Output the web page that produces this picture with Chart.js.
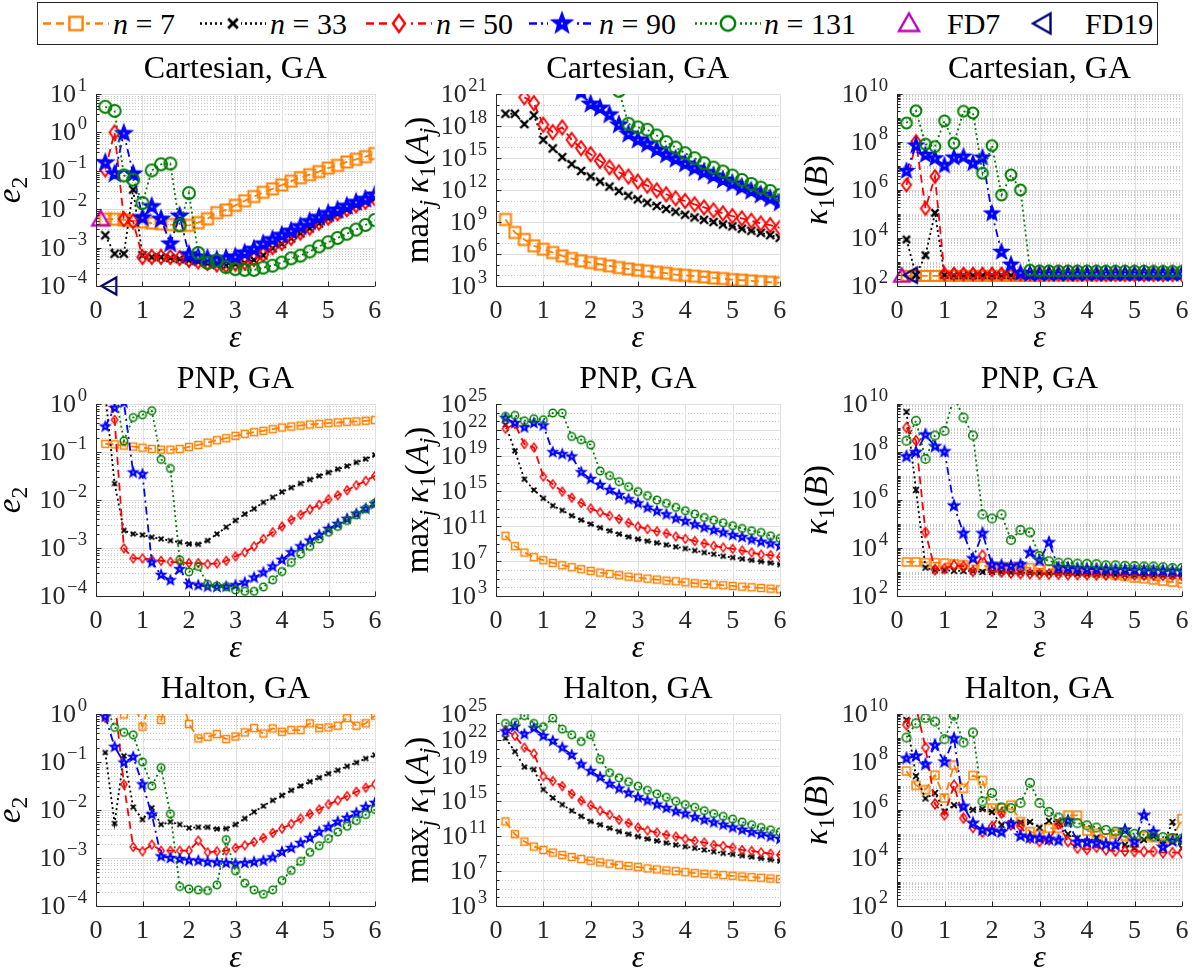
<!DOCTYPE html>
<html>
<head>
<meta charset="utf-8">
<title>GA conditioning and error</title>
<script src="https://cdn.jsdelivr.net/npm/chart.js@4.4.1/dist/chart.umd.min.js"></script>
<style>
  body { margin: 0; background: #fff; }
  #page { position: relative; width: 1192px; height: 980px; overflow: hidden; }
  #page canvas.panel { position: absolute; }
  #legend { position: absolute; left: 37px; top: 2px; width: 1121px; height: 43px; box-sizing: border-box;
            border: 1px solid #262626; font-family: 'Liberation Serif', serif; font-size: 30px; color: #000; background: #fff; }
  #legend .txt { position: absolute; top: 0; height: 41px; line-height: 41px; white-space: nowrap; }
  #legend canvas { position: absolute; top: 0; }
</style>
</head>
<body>
<div id="page">
  <div id="legend"></div>
</div>
<script>
// shape parameter values
var eps = [0.2, 0.4, 0.6, 0.8, 1.0, 1.2, 1.4, 1.6, 1.8, 2.0, 2.2, 2.4, 2.6, 2.8, 3.0,
           3.2, 3.4, 3.6, 3.8, 4.0, 4.2, 4.4, 4.6, 4.8, 5.0, 5.2, 5.4, 5.6, 5.8, 6.0];

// all values below are log10 of what the figure shows (null = not plotted)

// Cartesian, e2
var cartE2N7 = [-2.26,-2.26,-2.28,-2.30,-2.33,-2.36,-2.38,-2.40,-2.42,-2.42,-2.35,-2.25,-2.09,-2.02,-1.90,-1.78,-1.67,-1.56,-1.47,-1.37,-1.27,-1.18,-1.10,-1.02,-0.93,-0.86,-0.77,-0.70,-0.63,-0.55];
var cartE2N33 = [-2.68,-3.16,-3.16,-1.49,-3.20,-3.25,-3.25,-3.27,-3.30,-3.33,-3.37,-3.41,-3.45,-3.47,-3.43,-3.40,-3.32,-3.20,-3.02,-2.90,-2.76,-2.63,-2.50,-2.37,-2.24,-2.13,-2.02,-1.91,-1.82,-1.73];
var cartE2N50 = [-0.965,0.0,-2.26,-2.32,-3.245,-3.24,-3.24,-3.245,-3.27,-3.32,-3.36,-3.40,-3.44,-3.46,-3.42,-3.39,-3.30,-3.18,-2.99,-2.88,-2.75,-2.61,-2.48,-2.35,-2.22,-2.11,-2.00,-1.90,-1.81,-1.72];
var cartE2N90 = [-0.79,-1.08,-0.026,-1.08,-2.22,-1.93,-2.26,-2.90,-2.175,-3.18,-3.245,-3.28,-3.32,-3.28,-3.24,-3.14,-3.04,-2.90,-2.79,-2.68,-2.57,-2.45,-2.32,-2.21,-2.11,-2.02,-1.92,-1.82,-1.74,-1.63];
var cartE2N131 = [0.667,0.56,-1.12,-1.23,-1.84,-0.99,-0.83,-0.81,-2.42,-1.58,-3.14,-3.40,-3.34,-3.51,-3.56,-3.58,-3.58,-3.52,-3.47,-3.39,-3.28,-3.21,-3.10,-2.97,-2.86,-2.75,-2.64,-2.53,-2.41,-2.28];

// Cartesian, max_j kappa1(A_j)
var cartKAN7 = [9.24,8.02,7.36,6.77,6.45,6.14,5.83,5.58,5.36,5.20,5.04,4.89,4.73,4.60,4.48,4.39,4.29,4.20,4.07,4.00,3.92,3.85,3.76,3.70,3.60,3.54,3.48,3.41,3.35,3.29];
var cartKAN33 = [19.15,19.15,18.18,19.0,16.7,15.9,15.08,14.42,13.79,13.26,12.79,12.32,11.9,11.47,11.13,10.81,10.5,10.22,9.97,9.68,9.43,9.21,9.0,8.77,8.59,8.37,8.18,7.99,7.77,7.52];
var cartKAN50 = [null,null,20.69,20.15,18.12,17.43,17.87,16.7,15.92,15.36,14.73,14.13,13.66,13.26,12.79,12.41,11.97,11.6,11.22,10.97,10.66,10.37,10.09,9.81,9.56,9.34,9.12,8.87,8.71,8.46];
var cartKAN90 = [null,null,null,null,null,null,null,23,21.15,20.06,19.68,19.06,18.12,17.24,16.7,16.3,15.76,15.3,14.89,14.45,14.04,13.66,13.32,12.94,12.6,12.25,11.9,11.55,11.2,10.8];
var cartKAN131 = [null,null,null,null,null,null,null,null,null,null,null,24,21.3,18.21,17.87,17.65,17.11,16.49,15.98,15.45,14.98,14.51,14.1,13.73,13.35,12.94,12.57,12.22,11.91,11.53];

// Cartesian, kappa1(B)
var cartKBN7 = [2.42,2.42,2.42,2.42,2.42,2.42,2.42,2.42,2.42,2.42,2.42,2.42,2.42,2.42,2.42,2.43,2.43,2.43,2.43,2.44,2.44,2.44,2.45,2.45,2.46,2.46,2.47,2.47,2.48,2.49];
var cartKBN33 = [3.94,2.45,3.28,5.05,2.45,2.44,2.44,2.44,2.44,2.44,2.44,2.44,2.44,2.44,2.45,2.45,2.45,2.45,2.45,2.45,2.46,2.46,2.46,2.46,2.47,2.47,2.47,2.48,2.48,2.48];
var cartKBN50 = [6.21,8.02,5.23,6.56,2.50,2.50,2.50,2.50,2.50,2.50,2.50,2.51,2.50,2.50,2.49,2.49,2.49,2.49,2.49,2.48,2.48,2.48,2.48,2.48,2.47,2.47,2.47,2.47,2.47,2.47];
var cartKBN90 = [6.79,7.85,7.46,7.32,7.02,7.35,7.39,7.11,7.35,5.02,3.42,2.89,2.54,2.50,2.50,2.50,2.50,2.50,2.50,2.50,2.50,2.50,2.50,2.50,2.50,2.50,2.50,2.50,2.50,2.51];
var cartKBN131 = [8.79,9.30,7.91,7.81,8.88,7.95,9.28,9.21,6.70,7.85,5.79,6.63,6.00,2.66,2.63,2.63,2.63,2.63,2.63,2.63,2.63,2.62,2.62,2.62,2.62,2.62,2.61,2.61,2.61,2.61];

// PNP, e2
var pnpE2N7 = [-0.83,-0.84,-0.867,-0.888,-0.909,-0.937,-0.951,-0.951,-0.937,-0.895,-0.853,-0.804,-0.755,-0.713,-0.664,-0.622,-0.587,-0.559,-0.524,-0.49,-0.469,-0.448,-0.427,-0.413,-0.399,-0.385,-0.371,-0.364,-0.35,-0.336];
var pnpE2N33 = [0.2,-1.657,-2.636,-2.706,-2.727,-2.776,-2.811,-2.846,-2.881,-2.916,-2.923,-2.846,-2.706,-2.566,-2.427,-2.294,-2.182,-2.049,-1.944,-1.832,-1.741,-1.657,-1.573,-1.497,-1.427,-1.357,-1.294,-1.217,-1.147,-1.063];
var pnpE2N50 = [0.5,-0.33,-3.007,-3.217,-3.217,-3.245,-3.266,-3.287,-3.30,-3.315,-3.315,-3.336,-3.32,-3.266,-3.175,-3.09,-2.965,-2.811,-2.671,-2.552,-2.413,-2.308,-2.196,-2.098,-1.986,-1.902,-1.797,-1.692,-1.601,-1.497];
var pnpE2N90 = [-0.469,-0.084,0.03,-1.427,-1.462,-3.30,-3.56,-3.671,-3.44,-3.755,-3.776,-3.804,-3.811,-3.804,-3.776,-3.72,-3.615,-3.51,-3.385,-3.245,-3.09,-2.965,-2.846,-2.727,-2.601,-2.497,-2.392,-2.287,-2.182,-2.077];
var pnpE2N131 = [0.5,0.3,-0.769,-0.28,-0.224,-0.14,-1.154,-1.343,-3.245,-3.497,-3.385,-3.755,-3.79,-3.804,-3.874,-3.902,-3.902,-3.811,-3.664,-3.49,-3.30,-3.126,-2.965,-2.811,-2.671,-2.552,-2.427,-2.308,-2.182,-2.063];

// PNP, max_j kappa1(A_j)
var pnpKAN7 = [9.9,8.71,7.98,7.45,7.10,6.79,6.53,6.30,6.07,5.87,5.68,5.53,5.38,5.22,5.11,4.99,4.88,4.76,4.69,4.57,4.46,4.38,4.30,4.23,4.15,4.07,4.00,3.92,3.84,3.77];
var pnpKAN33 = [22.62,19.63,16.38,15.15,14.19,13.35,12.81,12.20,11.70,11.24,10.82,10.47,10.09,9.78,9.52,9.29,9.09,8.86,8.63,8.44,8.21,7.98,7.79,7.56,7.41,7.25,7.10,6.95,6.79,6.60];
var pnpKAN50 = [22.16,22.70,20.40,20.02,16.68,15.80,14.96,14.27,13.65,13.04,12.58,12.20,11.81,11.39,10.97,10.66,10.40,10.17,9.82,9.55,9.29,9.02,8.75,8.56,8.40,8.21,7.98,7.75,7.68,7.45];
var pnpKAN90 = [23.39,22.82,22.32,22.82,22.55,19.48,19.25,18.98,17.18,16.41,15.72,15.15,14.57,14.08,13.62,13.12,12.73,12.35,11.89,11.58,11.20,10.86,10.55,10.28,9.98,9.75,9.48,9.21,9.02,8.75];
var pnpKAN131 = [23.58,23.70,23.08,23.31,23.20,23.97,23.97,21.28,20.90,20.32,17.33,16.80,16.11,15.53,14.96,14.50,14.00,13.62,13.16,12.77,12.39,12.00,11.70,11.39,11.05,10.74,10.47,10.28,9.90,9.59];

// PNP, kappa1(B)
var pnpKBN7 = [3.42,3.42,3.39,3.39,3.37,3.34,3.31,3.28,3.25,3.24,3.23,3.22,3.20,3.18,3.14,3.12,3.10,3.08,3.05,3.00,2.97,2.93,2.86,2.82,2.75,2.72,2.67,2.62,2.58,2.53];
var pnpKBN33 = [9.67,6.42,3.18,3.07,3.07,3.05,3.04,3.03,3.00,3.00,2.99,2.98,2.97,2.96,2.95,2.94,2.93,2.93,2.92,2.91,2.90,2.90,2.89,2.88,2.87,2.87,2.86,2.86,2.85,2.85];
var pnpKBN50 = [9.02,8.47,4.65,3.10,3.14,3.28,3.24,3.03,3.70,3.03,3.00,2.96,2.93,2.93,2.91,2.91,2.91,2.89,2.89,2.89,2.88,2.88,2.88,2.87,2.87,2.87,2.87,2.86,2.86,2.86];
var pnpKBN90 = [7.81,7.99,8.72,8.23,8.02,5.76,4.61,3.56,4.61,3.31,3.28,3.25,3.31,3.81,3.49,4.23,3.18,3.17,3.14,3.13,3.12,3.11,3.10,3.09,3.08,3.07,3.06,3.05,3.04,3.03];
var pnpKBN131 = [8.47,9.30,7.71,8.69,8.88,10.3,9.44,8.69,5.40,5.23,5.40,4.33,4.75,4.65,3.67,3.45,3.39,3.39,3.35,3.34,3.33,3.28,3.28,3.26,3.25,3.23,3.23,3.20,3.17,3.17];

// Halton, e2
var halE2N7 = [0.3,0.2,-0.01,0.3,-0.265,0.4,-0.126,0.5,0.5,-0.209,-0.509,-0.475,-0.419,-0.523,-0.468,-0.384,-0.293,-0.405,-0.30,-0.37,-0.335,-0.335,-0.195,-0.293,-0.279,-0.244,-0.084,-0.244,-0.195,-0.035];
var halE2N33 = [-0.803,-2.28,-0.872,-1.94,-2.198,-1.954,-2.303,-2.247,-2.303,-2.373,-2.359,-2.359,-2.394,-2.387,-2.303,-2.177,-2.038,-1.919,-1.80,-1.696,-1.591,-1.50,-1.41,-1.326,-1.242,-1.172,-1.089,-1.012,-0.928,-0.858];
var halE2N50 = [-0.084,0.3,-1.465,-2.77,-2.861,-2.722,-2.847,-2.847,-2.847,-2.847,-2.638,-2.882,-2.861,-2.847,-2.791,-2.736,-2.666,-2.582,-2.477,-2.387,-2.289,-2.177,-2.08,-1.989,-1.884,-1.80,-1.71,-1.619,-1.535,-1.465];
var halE2N90 = [-0.056,-0.684,-1.012,-0.893,-1.465,-2.094,-2.966,-3.00,-3.022,-3.05,-3.057,-3.084,-3.091,-3.105,-3.119,-3.105,-3.084,-3.057,-2.987,-2.875,-2.791,-2.687,-2.582,-2.456,-2.359,-2.247,-2.163,-2.059,-1.94,-1.849];
var halE2N131 = [0.2,-0.279,-0.384,-0.433,-0.998,-1.50,-1.117,-2.08,-3.594,-3.643,-3.664,-3.678,-3.559,-2.617,-3.266,-3.524,-3.664,-3.754,-3.664,-3.468,-3.259,-3.07,-2.882,-2.743,-2.596,-2.456,-2.338,-2.219,-2.094,-1.989];

// Halton, max_j kappa1(A_j)
var halKAN7 = [12.69,11.23,10.38,9.81,9.42,9.12,8.85,8.62,8.38,8.19,8.00,7.85,7.69,7.58,7.46,7.31,7.19,7.08,7.00,6.88,6.77,6.69,6.62,6.54,6.46,6.38,6.31,6.23,6.15,6.08];
var halKAN33 = [22.23,20.69,18.92,18.65,16.35,15.38,14.62,13.92,13.27,12.69,12.31,11.92,11.54,11.23,10.96,10.69,10.46,10.23,10.00,9.81,9.62,9.42,9.23,9.04,8.92,8.77,8.62,8.46,8.31,8.15];
var halKAN50 = [23.15,22.50,21.15,20.46,17.85,17.31,16.73,15.85,15.08,14.54,13.92,13.46,12.88,12.50,12.00,11.65,11.42,11.15,10.96,10.69,10.46,10.27,10.00,9.88,9.69,9.42,9.31,9.15,9.00,8.85];
var halKAN90 = [23.00,23.54,22.69,23.38,22.50,21.92,21.15,20.31,19.23,18.46,17.77,17.00,16.46,15.96,15.46,15.08,14.62,14.23,13.85,13.58,13.19,12.88,12.58,12.31,12.00,11.73,11.46,11.23,10.96,10.69];
var halKAN131 = [23.92,24.04,24.81,23.92,23.54,24.54,23.27,22.62,21.85,22.62,19.81,18.27,17.69,17.23,16.73,16.27,15.85,15.46,15.00,14.62,14.31,13.92,13.58,13.27,12.96,12.62,12.31,12.00,11.73,11.46];

// Halton, kappa1(B)
var halKBN7 = [7.62,7.03,6.85,7.45,6.50,7.87,6.90,7.44,7.23,6.08,6.08,6.20,5.52,5.10,4.97,5.24,5.24,5.78,5.78,5.13,5.03,4.83,5.00,4.90,4.62,4.90,4.85,4.62,4.83,5.64];
var halKBN33 = [9.75,7.41,6.48,6.71,5.94,6.20,6.08,6.01,6.04,5.92,5.38,5.45,5.48,5.50,5.27,5.55,5.50,5.00,4.83,4.69,4.85,4.55,4.50,4.55,4.41,4.76,4.90,4.55,5.50,4.41];
var halKBN50 = [9.55,10.3,8.60,6.25,5.80,7.03,5.66,5.27,5.08,5.31,5.87,5.38,5.31,4.83,4.69,4.76,5.41,4.69,4.41,4.36,4.45,4.34,4.29,4.29,4.27,4.27,4.27,4.22,4.22,4.22];
var halKBN90 = [8.15,8.25,7.90,8.70,8.01,8.98,6.15,5.45,5.17,5.13,5.08,5.41,4.92,4.85,4.83,4.78,4.73,5.55,4.66,4.66,4.62,4.57,4.55,5.17,4.69,5.78,5.08,4.45,4.71,4.76];
var halKBN131 = [9.02,9.61,9.83,9.68,8.95,9.93,8.81,9.23,6.36,6.71,6.11,6.08,6.29,7.13,6.29,5.92,5.69,5.52,5.45,5.36,5.27,5.17,5.10,5.06,5.01,4.97,4.90,4.87,4.83,4.80];

// FD reference points (eps, log10 value)
var fd7Eps = 0.1, fd19Eps = 0.3;
var cartE2FD7 = -2.26, cartE2FD19 = -4.0;
var cartKBFD7 = 2.42, cartKBFD19 = 2.45;

var FONT = "'Liberation Serif', 'Times New Roman', serif";
var INK = '#262626';

var series = [
  { label: '7',   color: '#FF8000', dash: [8, 5],       marker: 'square',  size: 11 },
  { label: '33',  color: '#000000', dash: [2, 3],       marker: 'x',       size: 8 },
  { label: '50',  color: '#FF0000', dash: [8, 5],       marker: 'diamond', size: 14 },
  { label: '90',  color: '#0000FF', dash: [8, 4, 2, 4], marker: 'star',    size: 17 },
  { label: '131', color: '#007F00', dash: [2, 3],       marker: 'circle',  size: 12 }
];

var cols = [{ l: 96, w: 279 }, { l: 496, w: 284 }, { l: 897, w: 285 }];
var rows = [94, 404, 714];
var PH = 192;

var lblE2 = [['e', 'i'], ['2', 's']];
var lblKA = [['max', ''], ['j', 'is'], ['\u2009', ''], ['\u03BA', 'i'], ['1', 's'], ['(', ''], ['A', 'i'], ['j', 'is'], [')', '']];
var lblKB = [['\u03BA', 'i'], ['1', 's'], ['(', ''], ['B', 'i'], [')', '']];

var panels = [
  { c: 0, r: 0, title: 'Cartesian, GA', ylab: lblE2, yoff: -76, lo: -4, hi: 1, ticks: [-4, -3, -2, -1, 0, 1], wide: false, ms: 1,
    data: [cartE2N7, cartE2N33, cartE2N50, cartE2N90, cartE2N131], fd: [cartE2FD7, cartE2FD19] },
  { c: 1, r: 0, title: 'Cartesian, GA', ylab: lblKA, yoff: -68, lo: 3, hi: 21, ticks: [3, 6, 9, 12, 15, 18, 21], wide: true, ms: 1,
    data: [cartKAN7, cartKAN33, cartKAN50, cartKAN90, cartKAN131] },
  { c: 2, r: 0, title: 'Cartesian, GA', ylab: lblKB, yoff: -70, lo: 2, hi: 10, ticks: [2, 4, 6, 8, 10], wide: false, ms: 0.9,
    data: [cartKBN7, cartKBN33, cartKBN50, cartKBN90, cartKBN131], fd: [cartKBFD7, cartKBFD19] },
  { c: 0, r: 1, title: 'PNP, GA', ylab: lblE2, yoff: -76, lo: -4, hi: 0, ticks: [-4, -3, -2, -1, 0], wide: false, ms: 0.62,
    data: [pnpE2N7, pnpE2N33, pnpE2N50, pnpE2N90, pnpE2N131] },
  { c: 1, r: 1, title: 'PNP, GA', ylab: lblKA, yoff: -68, lo: 3, hi: 25, ticks: [3, 7, 11, 15, 19, 22, 25], wide: true, ms: 0.62,
    data: [pnpKAN7, pnpKAN33, pnpKAN50, pnpKAN90, pnpKAN131] },
  { c: 2, r: 1, title: 'PNP, GA', ylab: lblKB, yoff: -70, lo: 2, hi: 10, ticks: [2, 4, 6, 8, 10], wide: false, ms: 0.72,
    data: [pnpKBN7, pnpKBN33, pnpKBN50, pnpKBN90, pnpKBN131] },
  { c: 0, r: 2, title: 'Halton, GA', ylab: lblE2, yoff: -76, lo: -4, hi: 0, ticks: [-4, -3, -2, -1, 0], wide: false, ms: 0.62,
    data: [halE2N7, halE2N33, halE2N50, halE2N90, halE2N131] },
  { c: 1, r: 2, title: 'Halton, GA', ylab: lblKA, yoff: -68, lo: 3, hi: 25, ticks: [3, 7, 11, 15, 19, 22, 25], wide: true, ms: 0.62,
    data: [halKAN7, halKAN33, halKAN50, halKAN90, halKAN131] },
  { c: 2, r: 2, title: 'Halton, GA', ylab: lblKB, yoff: -70, lo: 2, hi: 10, ticks: [2, 4, 6, 8, 10], wide: false, ms: 0.72,
    data: [halKBN7, halKBN33, halKBN50, halKBN90, halKBN131] }
];

// marker images, drawn once per kind/size
function makeMarker(kind, color, s, lw) {
  var pad = Math.ceil(lw) + 2;
  var n = Math.ceil(s + 2 * pad);
  if (n % 2) n++;
  var c = document.createElement('canvas');
  c.width = n; c.height = n;
  var g = c.getContext('2d');
  g.translate(n / 2, n / 2);
  g.strokeStyle = color;
  g.fillStyle = color;
  g.lineWidth = lw;
  g.lineJoin = 'miter';
  var h = s / 2;
  g.beginPath();
  if (kind === 'square') {
    g.rect(-h, -h, s, s);
  } else if (kind === 'circle') {
    g.arc(0, 0, h, 0, 2 * Math.PI);
  } else if (kind === 'diamond') {
    var w = h * 0.72;
    g.moveTo(0, -h); g.lineTo(w, 0); g.lineTo(0, h); g.lineTo(-w, 0); g.closePath();
  } else if (kind === 'x') {
    g.lineWidth = lw * 1.2;
    g.moveTo(-h, -h); g.lineTo(h, h); g.moveTo(h, -h); g.lineTo(-h, h);
  } else if (kind === 'star') {
    for (var k = 0; k < 10; k++) {
      var rr = k % 2 ? h * 0.42 : h;
      var a = -Math.PI / 2 + k * Math.PI / 5;
      if (k === 0) g.moveTo(rr * Math.cos(a), rr * Math.sin(a));
      else g.lineTo(rr * Math.cos(a), rr * Math.sin(a));
    }
    g.closePath();
    g.fill();
    g.lineWidth = lw * 0.8;
  } else if (kind === 'triUp') {
    g.moveTo(0, -h); g.lineTo(h, h * 0.75); g.lineTo(-h, h * 0.75); g.closePath();
  } else if (kind === 'triLeft') {
    g.moveTo(-h, 0); g.lineTo(h * 0.75, -h); g.lineTo(h * 0.75, h); g.closePath();
  }
  g.stroke();
  if (kind === 'star') {
    g.fillStyle = '#fff';
    g.beginPath();
    g.arc(0, 0, Math.max(0.8, h * 0.1), 0, 2 * Math.PI);
    g.fill();
  }
  return c;
}

function fontFor(f, size) {
  var small = f.indexOf('s') >= 0 || f.indexOf('u') >= 0;
  return (f.indexOf('i') >= 0 ? 'italic ' : '') + (small ? size * 0.72 : size) + 'px ' + FONT;
}

// draws text pieces with sub/superscripts; returns width
function drawRich(ctx, parts, x, y, size, align) {
  var w = 0;
  parts.forEach(function (p) { ctx.font = fontFor(p[1], size); w += ctx.measureText(p[0]).width; });
  var cx = align === 'center' ? x - w / 2 : (align === 'right' ? x - w : x);
  ctx.textAlign = 'left';
  ctx.textBaseline = 'alphabetic';
  parts.forEach(function (p) {
    ctx.font = fontFor(p[1], size);
    var dy = 0;
    if (p[1].indexOf('s') >= 0) dy = size * 0.22;
    if (p[1].indexOf('u') >= 0) dy = -size * 0.42;
    ctx.fillText(p[0], cx, y + dy);
    cx += ctx.measureText(p[0]).width;
  });
  return w;
}

function expLabel(k) {
  return [['10', ''], ['\u200A', 'u'], [String(k).replace('-', '\u2212'), 'u']];
}

var matlabAxes = {
  id: 'matlabAxes',
  beforeDatasetsDraw: function (chart, args, o) {
    var ctx = chart.ctx, a = chart.chartArea, ys = chart.scales.y, xs = chart.scales.x;
    ctx.save();
    ctx.lineWidth = 1;
    // minor grid (dotted)
    ctx.strokeStyle = '#c8c8c8';
    ctx.setLineDash([1, 2]);
    ctx.beginPath();
    o.minor.forEach(function (v) {
      var y = Math.round(ys.getPixelForValue(v)) + 0.5;
      ctx.moveTo(a.left, y); ctx.lineTo(a.right, y);
    });
    ctx.stroke();
    // major grid
    ctx.setLineDash([]);
    ctx.strokeStyle = '#e0e0e0';
    ctx.beginPath();
    o.ticks.forEach(function (k) {
      var y = Math.round(ys.getPixelForValue(Math.pow(10, k))) + 0.5;
      ctx.moveTo(a.left, y); ctx.lineTo(a.right, y);
    });
    for (var t = 0; t <= 6; t++) {
      var x = Math.round(xs.getPixelForValue(t)) + 0.5;
      ctx.moveTo(x, a.top); ctx.lineTo(x, a.bottom);
    }
    ctx.stroke();
    ctx.restore();
  },
  afterDatasetsDraw: function (chart, args, o) {
    var ctx = chart.ctx, a = chart.chartArea, ys = chart.scales.y, xs = chart.scales.x;
    ctx.save();
    ctx.strokeStyle = INK;
    ctx.fillStyle = INK;
    ctx.lineWidth = 1;
    var L = Math.round(a.left) + 0.5, B = Math.round(a.bottom) + 0.5;
    ctx.beginPath();
    ctx.moveTo(L, a.top); ctx.lineTo(L, B); ctx.lineTo(a.right, B);
    // tick marks
    o.minor.forEach(function (v) {
      var y = Math.round(ys.getPixelForValue(v)) + 0.5;
      ctx.moveTo(L, y); ctx.lineTo(L + 3, y);
    });
    o.ticks.forEach(function (k) {
      var y = Math.round(ys.getPixelForValue(Math.pow(10, k))) + 0.5;
      ctx.moveTo(L, y); ctx.lineTo(L + 5, y);
    });
    for (var t = 0; t <= 6; t++) {
      var x = Math.round(xs.getPixelForValue(t)) + 0.5;
      ctx.moveTo(x, B); ctx.lineTo(x, B - 5);
    }
    ctx.stroke();
    // tick labels
    o.ticks.forEach(function (k) {
      var y = ys.getPixelForValue(Math.pow(10, k));
      drawRich(ctx, expLabel(k), a.left - 9, y + 8, 26, 'right');
    });
    for (var t2 = 0; t2 <= 6; t2++) {
      drawRich(ctx, [[String(t2), '']], xs.getPixelForValue(t2), a.bottom + 32, 26, 'center');
    }
    ctx.fillStyle = '#000';
    // title
    drawRich(ctx, [[o.title, '']], (a.left + a.right) / 2, a.top - 16, 32, 'center');
    // x label
    drawRich(ctx, [['\u03B5', 'i']], (a.left + a.right) / 2, a.bottom + 61, 32, 'center');
    // y label, rotated
    ctx.translate(a.left + o.yoff, (a.top + a.bottom) / 2);
    ctx.rotate(-Math.PI / 2);
    drawRich(ctx, o.ylab, 0, 0, 33, 'center');
    ctx.restore();
  }
};

function toPoints(logs) {
  return logs.map(function (v, i) {
    return { x: eps[i], y: v === null ? null : Math.pow(10, v) };
  });
}

Chart.defaults.font.family = FONT;

var page = document.getElementById('page');

panels.forEach(function (p) {
  var col = cols[p.c];
  var cv = document.createElement('canvas');
  cv.className = 'panel';
  var W = 96 + col.w + 10, H = 50 + PH + 80;
  cv.width = W; cv.height = H;
  cv.style.left = (col.l - 96) + 'px';
  cv.style.top = (rows[p.r] - 50) + 'px';
  page.appendChild(cv);

  // minor grid positions
  var minor = [];
  for (var k = p.lo; k <= p.hi; k++) {
    if (p.ticks.indexOf(k) < 0) minor.push(Math.pow(10, k));
    if (!p.wide && k < p.hi) {
      for (var m = 2; m <= 9; m++) minor.push(m * Math.pow(10, k));
    }
  }

  var lw = p.r === 0 ? 2 : 1.5;
  var datasets = p.data.map(function (d, i) {
    var s = series[i];
    var img = makeMarker(s.marker, s.color, s.size * p.ms, lw);
    return {
      data: toPoints(d),
      borderColor: s.color,
      borderWidth: 1.8,
      borderDash: s.dash,
      pointStyle: img,
      pointRadius: s.size * p.ms / 2,
      fill: false,
      tension: 0,
      order: 10 - i
    };
  });
  if (p.fd) {
    datasets.push({
      data: [{ x: fd7Eps, y: Math.pow(10, p.fd[0]) }], showLine: false, clip: false, order: 4,
      pointStyle: makeMarker('triUp', '#BF00BF', 17 * p.ms, 2.2), pointRadius: 8
    });
    datasets.push({
      data: [{ x: fd19Eps, y: Math.pow(10, p.fd[1]) }], showLine: false, clip: false, order: 3,
      pointStyle: makeMarker('triLeft', '#00007F', 17 * p.ms, 2.2), pointRadius: 8
    });
  }

  new Chart(cv.getContext('2d'), {
    type: 'line',
    data: { datasets: datasets },
    options: {
      responsive: false,
      animation: false,
      events: [],
      devicePixelRatio: 1,
      layout: { padding: { top: 50, right: 10, left: 0, bottom: 0 } },
      plugins: {
        legend: { display: false },
        tooltip: { enabled: false },
        matlabAxes: { title: p.title, ylab: p.ylab, yoff: p.yoff, ticks: p.ticks, minor: minor }
      },
      scales: {
        x: {
          type: 'linear', min: 0, max: 6,
          grid: { display: false }, border: { display: false }, ticks: { display: false },
          afterFit: function (s) { s.height = 80; }
        },
        y: {
          type: 'logarithmic', min: Math.pow(10, p.lo), max: Math.pow(10, p.hi),
          grid: { display: false }, border: { display: false }, ticks: { display: false },
          afterFit: function (s) { s.width = 96; }
        }
      }
    },
    plugins: [matlabAxes]
  });
});

// legend across the top
var legend = document.getElementById('legend');
var legendItems = [
  { s: 0, cx: 38, tx: 75, text: '<i>n</i> = 7' },
  { s: 1, cx: 195, tx: 232, text: '<i>n</i> = 33' },
  { s: 2, cx: 361, tx: 398, text: '<i>n</i> = 50' },
  { s: 3, cx: 524, tx: 561, text: '<i>n</i> = 90' },
  { s: 4, cx: 690, tx: 726, text: '<i>n</i> = 131' },
  { fd: 'triUp', color: '#BF00BF', cx: 871, tx: 909, text: 'FD7' },
  { fd: 'triLeft', color: '#00007F', cx: 1005, tx: 1047, text: 'FD19' }
];
legendItems.forEach(function (it) {
  var c = document.createElement('canvas');
  c.width = 70; c.height = 41;
  c.style.left = (it.cx - 35) + 'px';
  legend.appendChild(c);
  var g = c.getContext('2d');
  var img;
  if (it.fd) {
    img = makeMarker(it.fd, it.color, 20, 2.4);
  } else {
    var s = series[it.s];
    g.strokeStyle = s.color;
    g.lineWidth = 2.4;
    g.setLineDash(s.dash);
    g.beginPath();
    g.moveTo(2, 20.5); g.lineTo(68, 20.5);
    g.stroke();
    img = makeMarker(s.marker, s.color, s.size * 1.2, 2.4);
    g.clearRect(35 - img.width / 2 + 2, 10, img.width - 4, 21);
  }
  g.drawImage(img, 35 - img.width / 2, 20.5 - img.height / 2);
  var t = document.createElement('span');
  t.className = 'txt';
  t.style.left = it.tx + 'px';
  t.innerHTML = it.text;
  legend.appendChild(t);
});
</script>
</body>
</html>
